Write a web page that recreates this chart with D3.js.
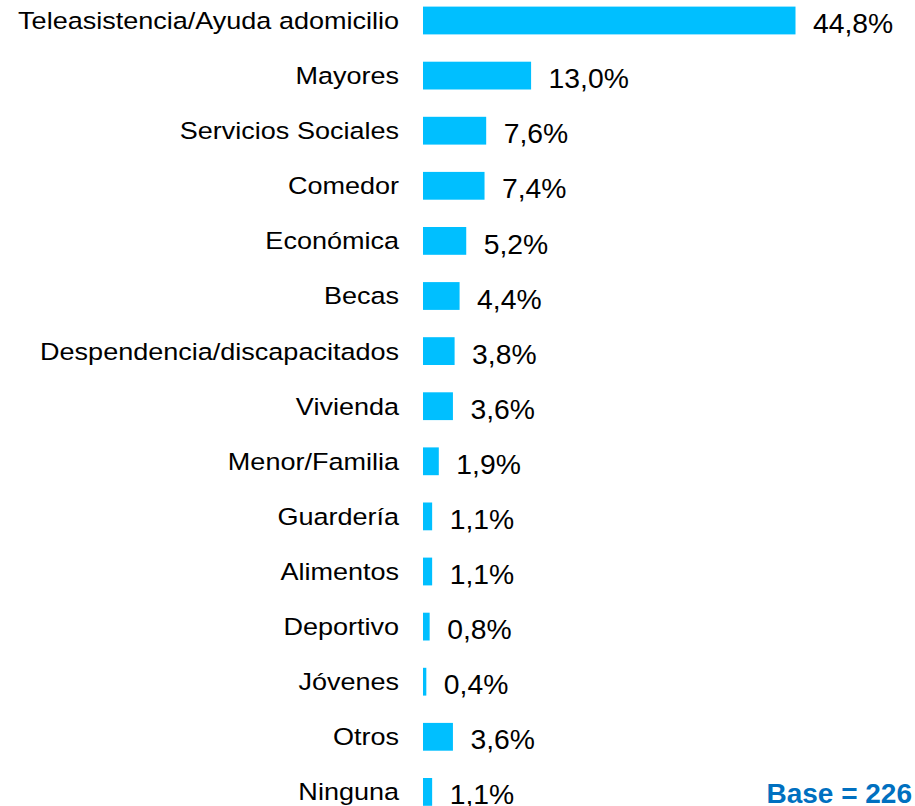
<!DOCTYPE html>
<html>
<head>
<meta charset="utf-8">
<script src="https://cdn.jsdelivr.net/npm/d3@7/dist/d3.min.js"></script>
<style>
  html, body { margin: 0; padding: 0; background: #fff; }
  svg { display: block; }
</style>
</head>
<body>
<svg id="chart" width="915" height="806"></svg>
<script>
const categories = [
  "Teleasistencia/Ayuda adomicilio", "Mayores", "Servicios Sociales", "Comedor",
  "Económica", "Becas", "Despendencia/discapacitados", "Vivienda", "Menor/Familia",
  "Guardería", "Alimentos", "Deportivo", "Jóvenes", "Otros", "Ninguna"
];
const values = [44.8, 13.0, 7.6, 7.4, 5.2, 4.4, 3.8, 3.6, 1.9, 1.1, 1.1, 0.8, 0.4, 3.6, 1.1];
const baseLabel = "Base = 226";

const data = categories.map((c, i) => ({ cat: c, val: values[i] }));
const svg = d3.select("#chart");

const x = d3.scaleLinear().domain([0, 44.8]).range([423, 795.5]);
const y = d3.scalePoint().domain(categories).range([20.5, 20.5 + 14 * 55.1]);
const barH = 27.8;
const fmt = v => d3.format(".1f")(v).replace(".", ",") + "%";

svg.selectAll("rect.bar").data(data).join("rect")
  .attr("class", "bar")
  .attr("x", x(0))
  .attr("y", d => y(d.cat) - barH / 2)
  .attr("width", d => x(d.val) - x(0))
  .attr("height", barH)
  .attr("fill", "#00bfff");

const catFont = 23.5;
svg.selectAll("text.cat").data(data).join("text")
  .attr("class", "cat")
  .attr("transform", d => `translate(399,${y(d.cat) + catFont * 0.36}) scale(1.15,1)`)
  .attr("text-anchor", "end")
  .attr("font-family", "Liberation Sans, Arial, sans-serif")
  .attr("font-size", catFont)
  .attr("fill", "#000")
  .text(d => d.cat);

const valFont = 28.3;
svg.selectAll("text.val").data(data).join("text")
  .attr("class", "val")
  .attr("x", d => x(d.val) + 17.5)
  .attr("y", d => Math.min(y(d.cat) + valFont * 0.36 + 2.5, 804))
  .attr("font-family", "Liberation Sans, Arial, sans-serif")
  .attr("font-size", valFont)
  .attr("fill", "#000")
  .text(d => fmt(d.val));

svg.append("text")
  .attr("x", 912)
  .attr("y", 803)
  .attr("text-anchor", "end")
  .attr("font-family", "Liberation Sans, Arial, sans-serif")
  .attr("font-size", 28)
  .attr("font-weight", "bold")
  .attr("fill", "#0070c0")
  .text(baseLabel);
</script>
</body>
</html>
